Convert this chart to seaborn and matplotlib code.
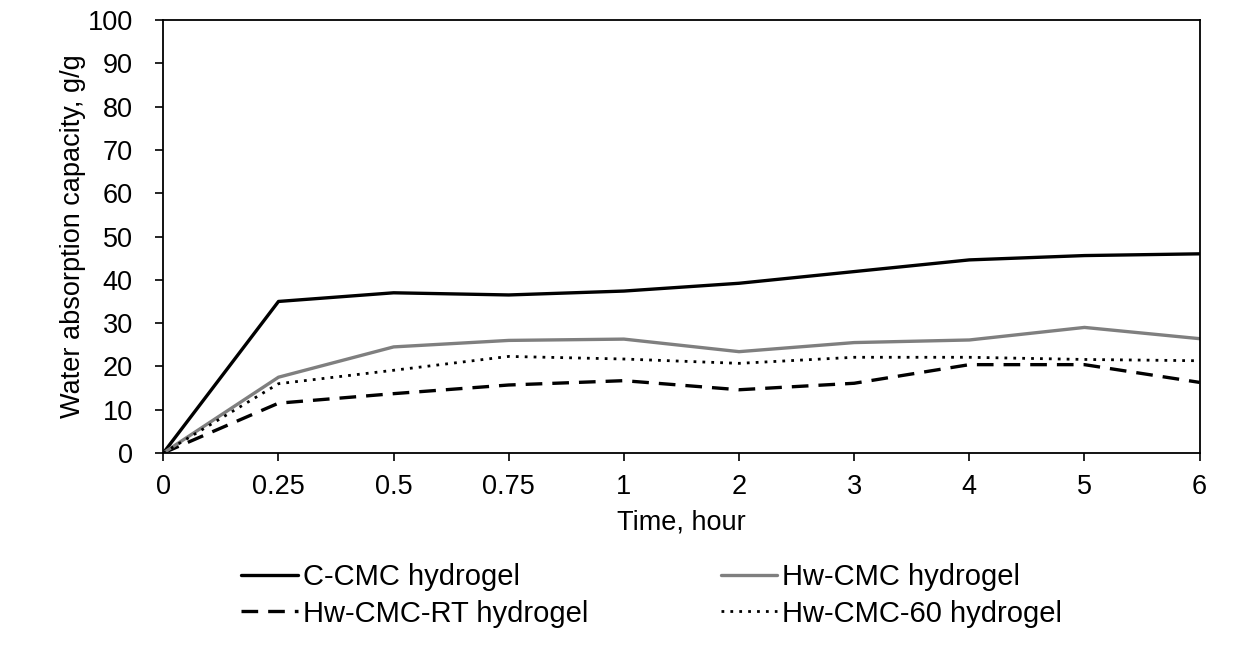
import numpy as np
import pandas as pd
import matplotlib
matplotlib.use("Agg")
import matplotlib.pyplot as plt
import seaborn as sns

# time points are plotted as evenly spaced categories
times = ["0", "0.25", "0.5", "0.75", "1", "2", "3", "4", "5", "6"]
c_cmc = [0, 35.0, 37.0, 36.5, 37.4, 39.2, 41.9, 44.6, 45.6, 46.0]
hw_cmc = [0, 17.5, 24.5, 26.0, 26.3, 23.4, 25.5, 26.1, 29.0, 26.4]
hw_cmc_rt = [0, 11.5, 13.7, 15.7, 16.7, 14.6, 16.1, 20.4, 20.4, 16.3]
hw_cmc_60 = [0, 16.0, 19.1, 22.3, 21.7, 20.7, 22.1, 22.1, 21.6, 21.3]

sns.set_theme(style="white")
plt.rcParams["font.family"] = ["Liberation Sans", "DejaVu Sans"]
plt.rcParams["text.color"] = "black"
plt.rcParams["axes.labelcolor"] = "black"
plt.rcParams["xtick.color"] = "black"
plt.rcParams["ytick.color"] = "black"

FS = 19.5

pos = np.arange(len(times))
fig, ax = plt.subplots(figsize=(12.47, 6.48), dpi=100)
fig.subplots_adjust(left=0.131, right=0.962, top=0.969, bottom=0.301)

sns.lineplot(x=pos, y=c_cmc, ax=ax, color="black", linewidth=2.4,
             label="C-CMC hydrogel")
sns.lineplot(x=pos, y=hw_cmc_rt, ax=ax, color="black", linewidth=2.4,
             label="Hw-CMC-RT hydrogel")
sns.lineplot(x=pos, y=hw_cmc, ax=ax, color="#7f7f7f", linewidth=2.4,
             label="Hw-CMC hydrogel")
sns.lineplot(x=pos, y=hw_cmc_60, ax=ax, color="black", linewidth=2.0,
             label="Hw-CMC-60 hydrogel")

lines = ax.get_lines()
lines[1].set_dashes((5, 3))
lines[3].set_dashes((1, 2.2))

ax.set_xlim(0, len(times) - 1)
ax.set_ylim(0, 100)
ax.set_xticks(pos)
ax.set_xticklabels(times)
ax.set_yticks(np.arange(0, 101, 10))
ax.tick_params(axis="both", labelsize=FS, direction="out", length=6,
               width=1.2, color="black", bottom=True, left=True)
ax.tick_params(axis="x", pad=9)
ax.tick_params(axis="y", pad=16)
for sp in ax.spines.values():
    sp.set_color("black")
    sp.set_linewidth(1.3)

ax.set_xlabel("Time, hour", fontsize=FS, labelpad=7)
ax.set_ylabel("Water absorption capacity, g/g", fontsize=FS, labelpad=1)

handles, labels = ax.get_legend_handles_labels()
ax.get_legend().remove()
fig.legend(handles, labels, ncol=2, loc="upper left",
           bbox_to_anchor=(0.193, 0.131), bbox_transform=fig.transFigure,
           frameon=False, fontsize=21, borderpad=0, borderaxespad=0,
           handlelength=1.95, handletextpad=0.17, columnspacing=4.55,
           labelspacing=0.29)

fig.savefig("out.png", dpi=100)
